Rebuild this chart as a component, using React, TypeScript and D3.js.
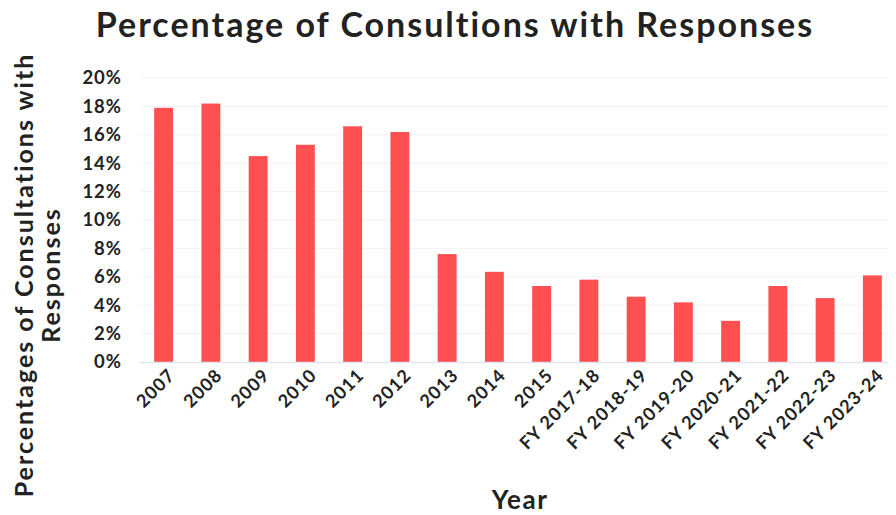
import * as d3 from "d3";
import { useEffect, useRef } from "react";

const years = [
  "2007", "2008", "2009", "2010", "2011", "2012", "2013", "2014", "2015",
  "FY 2017-18", "FY 2018-19", "FY 2019-20", "FY 2020-21", "FY 2021-22", "FY 2022-23", "FY 2023-24",
];
const pctWithResponses = [
  17.9, 18.2, 14.5, 15.3, 16.6, 16.2, 7.6, 6.35, 5.35, 5.8, 4.6, 4.2, 2.9, 5.35, 4.5, 6.1,
];
const yTicks = [0, 2, 4, 6, 8, 10, 12, 14, 16, 18, 20];

const W = 896;
const H = 515;
const FONT = "Lato, 'Noto Sans', sans-serif";

export default function App() {
  const ref = useRef<SVGSVGElement>(null);

  useEffect(() => {
    if (!ref.current) return;
    const svg = d3.select(ref.current);
    svg.selectAll("*").remove();

    const margin = { top: 78, right: 0, bottom: 153, left: 140 };
    const innerH = H - margin.top - margin.bottom;

    const x = d3
      .scaleBand()
      .domain(years)
      .range([margin.left, W - margin.right])
      .paddingInner(0.6)
      .paddingOuter(0.3);
    const y = d3.scaleLinear().domain([0, 20]).range([margin.top + innerH, margin.top]);

    // grid
    svg
      .append("g")
      .selectAll("line")
      .data(yTicks.filter((t) => t > 0))
      .join("line")
      .attr("x1", margin.left)
      .attr("x2", W - margin.right)
      .attr("y1", (d) => y(d))
      .attr("y2", (d) => y(d))
      .attr("stroke", "#f1f2f4")
      .attr("stroke-width", 1);

    // bars
    svg
      .append("g")
      .selectAll("rect")
      .data(years)
      .join("rect")
      .attr("x", (d) => x(d)!)
      .attr("width", x.bandwidth())
      .attr("y", (d, i) => y(pctWithResponses[i]))
      .attr("height", (d, i) => y(0) - y(pctWithResponses[i]))
      .attr("fill", "#fe5050");

    // baseline
    svg
      .append("line")
      .attr("x1", margin.left)
      .attr("x2", W - margin.right)
      .attr("y1", y(0) + 0.5)
      .attr("y2", y(0) + 0.5)
      .attr("stroke", "#dfe5ee")
      .attr("stroke-width", 1.5);

    // y axis labels
    svg
      .append("g")
      .selectAll("text")
      .data(yTicks)
      .join("text")
      .attr("x", 122)
      .attr("y", (d) => y(d))
      .attr("dy", "0.35em")
      .attr("text-anchor", "end")
      .attr("font-family", FONT)
      .attr("font-weight", 700)
      .attr("font-size", 18.5)
      .attr("letter-spacing", 1)
      .attr("fill", "#222")
      .text((d) => `${d}%`);

    // x axis labels
    svg
      .append("g")
      .selectAll("text")
      .data(years)
      .join("text")
      .attr(
        "transform",
        (d) => `translate(${x(d)! + x.bandwidth() / 2 + 8},${y(0) + 10}) rotate(-45)`
      )
      .attr("text-anchor", "end")
      .attr("dy", "0.35em")
      .attr("font-family", FONT)
      .attr("font-weight", 700)
      .attr("font-size", 18)
      .attr("letter-spacing", 1)
      .attr("fill", "#222")
      .text((d) => d);

    // title
    svg
      .append("text")
      .attr("x", W / 2 + 7)
      .attr("y", 37)
      .attr("text-anchor", "middle")
      .attr("font-family", FONT)
      .attr("font-weight", 700)
      .attr("font-size", 34)
      .attr("letter-spacing", 2)
      .attr("fill", "#222")
      .text("Percentage of Consultions with Responses");

    // x axis title
    svg
      .append("text")
      .attr("x", 520)
      .attr("y", 509)
      .attr("text-anchor", "middle")
      .attr("font-family", FONT)
      .attr("font-weight", 700)
      .attr("font-size", 26)
      .attr("letter-spacing", 1.5)
      .attr("fill", "#222")
      .text("Year");

    // y axis title (two lines)
    const yt = svg
      .append("text")
      .attr("transform", `translate(33,275) rotate(-90)`)
      .attr("text-anchor", "middle")
      .attr("font-family", FONT)
      .attr("font-weight", 700)
      .attr("font-size", 25)
      .attr("letter-spacing", 2)
      .attr("fill", "#222");
    yt.append("tspan").attr("x", 0).attr("dy", 0).text("Percentages of Consultations with");
    yt.append("tspan").attr("x", 0).attr("dy", 27).text("Responses");
  }, []);

  return (
    <div style={{ width: W, height: H }}>
      <svg ref={ref} width={W} height={H} style={{ display: "block", marginLeft: -8, marginTop: -8 }} />
    </div>
  );
}
